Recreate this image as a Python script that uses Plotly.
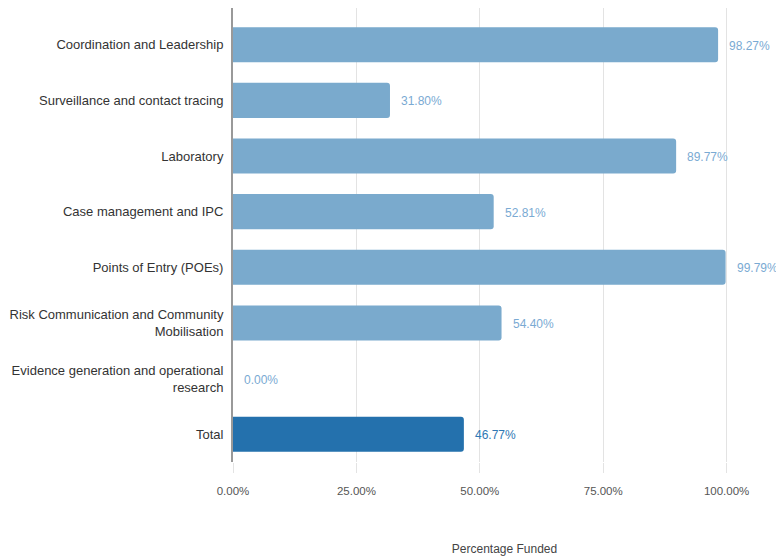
import plotly.graph_objects as go

categories = [
    "Coordination and Leadership",
    "Surveillance and contact tracing",
    "Laboratory",
    "Case management and IPC",
    "Points of Entry (POEs)",
    "Risk Communication and Community<br>Mobilisation",
    "Evidence generation and operational<br>research",
    "Total",
]
values = [98.27, 31.80, 89.77, 52.81, 99.79, 54.40, 0.00, 46.77]
bar_colors = ["#7aaacd"] * 7 + ["#2471ad"]
label_colors = ["#7aaad3"] * 7 + ["#2f78b4"]
x_ticks = [0, 25, 50, 75, 100]
x_tick_labels = ["0.00%", "25.00%", "50.00%", "75.00%", "100.00%"]

fig = go.Figure()
fig.add_trace(go.Bar(
    x=values, y=categories, orientation="h",
    marker=dict(color=bar_colors, line=dict(width=0)),
    hoverinfo="skip",
))

for c, v, col in zip(categories, values, label_colors):
    fig.add_annotation(
        x=v, y=c, text=f"{v:.2f}%", showarrow=False,
        xanchor="left", xshift=9, yshift=-1,
        font=dict(size=12, color=col, family="Liberation Sans, Arial"),
    )

fig.update_layout(
    width=776, height=550,
    margin=dict(l=225, r=8, t=0, b=96, autoexpand=False),
    plot_bgcolor="white", paper_bgcolor="white",
    showlegend=False,
    bargap=0.37,
    barcornerradius=3,
    font=dict(family="Liberation Sans, Arial", size=12, color="#444"),
    xaxis=dict(
        range=[0, 110],
        tickvals=x_ticks, ticktext=x_tick_labels,
        showgrid=True, gridcolor="#e3e3e3", gridwidth=1,
        zeroline=False,
        ticks="outside", ticklen=10, tickcolor="#e3e3e3",
        ticklabelstandoff=8,
        tickfont=dict(size=11.5, color="#555"),
        title=dict(text="Percentage Funded", standoff=48,
                   font=dict(size=12, color="#444")),
        fixedrange=True,
        automargin=False,
    ),
    yaxis=dict(
        categoryorder="array", categoryarray=categories,
        range=[7.5, -0.66],
        showline=True, linecolor="#999", linewidth=2,
        ticks="outside", ticklen=5, tickcolor="rgba(0,0,0,0)",
        tickfont=dict(size=13, color="#333"),
        showgrid=False,
        fixedrange=True,
        automargin=False,
    ),
)

fig.write_html("out.html")
